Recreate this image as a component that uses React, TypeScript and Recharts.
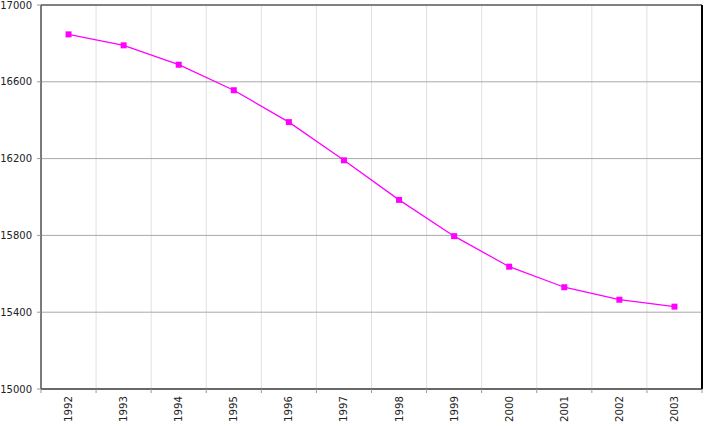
import {
  LineChart, Line, XAxis, YAxis, CartesianGrid, ReferenceLine,
} from "recharts";

const years = ["1992", "1993", "1994", "1995", "1996", "1997", "1998", "1999", "2000", "2001", "2002", "2003"];
const population = [16847, 16790, 16689, 16556, 16390, 16191, 15985, 15796, 15637, 15530, 15465, 15429];
const yTicks = [15000, 15400, 15800, 16200, 16600, 17000];

const data = years.map((year, i) => ({ year, i, value: population[i] }));
const centers = years.map((_, i) => i);
const edges = [...years.map((_, i) => i - 0.5), years.length - 0.5];
const xTicks = [...edges, ...centers].sort((a, b) => a - b);

const font = "'DejaVu Sans', Verdana, sans-serif";

function YearTick({ x, y, payload }: any) {
  const v = payload.value as number;
  if (!Number.isInteger(v)) {
    // boundary tick mark
    return <line x1={x} x2={x} y1={y} y2={y + 4} stroke="#999" strokeWidth={1} />;
  }
  const ty = y + 7;
  return (
    <text
      x={x}
      y={ty}
      transform={`rotate(-90, ${x}, ${ty})`}
      textAnchor="end"
      dominantBaseline="central"
      fontSize={10.2}
      fontFamily={font}
      fill="#222"
    >
      {years[v]}
    </text>
  );
}

function SquareDot({ cx, cy }: any) {
  if (cx == null || cy == null) return null;
  return <rect x={cx - 3} y={cy - 3} width={6} height={6} fill="#ff00ff" />;
}

export default function App() {
  return (
    <div style={{ position: "absolute", left: 0, top: 0, background: "#fff" }}>
      <LineChart width={705} height={426} data={data} margin={{ top: 5, right: 3, bottom: 0, left: 0 }}>
        <CartesianGrid horizontal={false} xAxisId="edges" stroke="#e0e0e0" strokeWidth={1} />
        <CartesianGrid vertical={false} stroke="#a8a8a8" strokeWidth={1} />
        <XAxis xAxisId="edges" type="number" dataKey="i" domain={[-0.5, 11.5]} ticks={edges} hide />
        <XAxis
          dataKey="i"
          type="number"
          domain={[-0.5, 11.5]}
          ticks={xTicks}
          interval={0}
          tick={<YearTick />}
          tickLine={false}
          tickSize={0}
          tickMargin={0}
          axisLine={{ stroke: "#000", strokeWidth: 1 }}
          height={37}
        />
        <YAxis
          domain={[15000, 17000]}
          ticks={yTicks}
          interval={0}
          width={41}
          tickSize={4}
          tickMargin={5}
          tickLine={{ stroke: "#999" }}
          axisLine={{ stroke: "#555", strokeWidth: 1.5 }}
          tick={{ fontSize: 10, fontFamily: font, fill: "#222" }}
        />
        <ReferenceLine y={17000} stroke="#808080" strokeWidth={2} />
        <ReferenceLine x={11.5} stroke="#000" strokeWidth={2} />
        <Line
          dataKey="value"
          stroke="#ff00ff"
          strokeWidth={1.3}
          dot={<SquareDot />}
          activeDot={false}
          isAnimationActive={false}
        />
      </LineChart>
    </div>
  );
}
